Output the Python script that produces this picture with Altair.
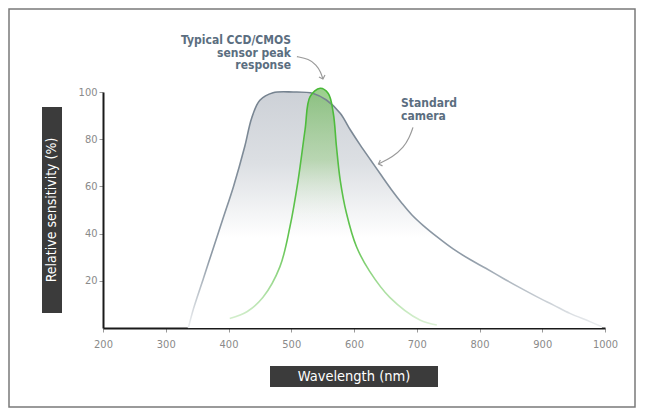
import altair as alt
import pandas as pd

# Standard camera spectral response (wavelength nm, relative sensitivity %)
camera_nm = [336, 344, 360, 376, 392, 408, 426, 437, 450, 471, 503, 535, 556, 578, 594, 610, 627, 644, 660, 676, 692, 710, 732, 758, 785, 810, 838, 865, 891, 918, 944, 976, 995]
camera_val = [0, 8, 21, 34, 47, 60, 77, 89, 96.5, 99.7, 100, 99.4, 96.6, 91, 84, 77.5, 71, 64.5, 58.5, 53, 48, 43.5, 38.7, 33.5, 29, 25.3, 21, 17, 13.3, 9.7, 6.2, 2.7, 0.5]

# Typical CCD/CMOS sensor peak response
sensor_nm = [402, 430, 455, 482, 498, 511, 522, 530, 546, 559, 567, 572, 578, 588, 604, 625, 657, 705, 732]
sensor_val = [4, 7, 13, 26, 43, 62.7, 84, 98, 101.6, 99.4, 91, 77, 62.7, 48.6, 34.4, 24, 13, 3.4, 1.3]

x_ticks = [200, 300, 400, 500, 600, 700, 800, 900, 1000]
y_ticks = [20, 40, 60, 80, 100]

# annotation arrows (data coordinates)
arrow1_nm = [509, 528, 540, 547, 550.5]
arrow1_val = [115, 114, 111.5, 108.5, 105.5]
arrow2_nm = [694, 688, 679, 662, 639]
arrow2_val = [85, 80.5, 76.5, 72.5, 69.5]

camera = pd.DataFrame({"nm": camera_nm, "val": camera_val})
sensor = pd.DataFrame({"nm": sensor_nm, "val": sensor_val})
a1 = pd.DataFrame({"nm": arrow1_nm, "val": arrow1_val, "o": range(len(arrow1_nm))})
a2 = pd.DataFrame({"nm": arrow2_nm, "val": arrow2_val, "o": range(len(arrow2_nm))})

FONT = "Liberation Sans Narrow, DejaVu Sans Condensed, sans-serif"
INTERP = "catmull-rom"

xs = alt.Scale(domain=[200, 1000], nice=False)
ys = alt.Scale(domain=[0, 100], nice=False)

X = alt.X("nm:Q", scale=xs,
          axis=alt.Axis(values=x_ticks, format="d", title=None, grid=False, domainColor="#1a1a1a",
                        domainWidth=2, tickColor="#999999", tickSize=4, labelColor="#8a8a8a",
                        labelFontSize=11, labelFont=FONT, labelPadding=6, labelFlush=False))
Y = alt.Y("val:Q", scale=ys,
          axis=alt.Axis(values=y_ticks, title=None, grid=False, domainColor="#1a1a1a",
                        domainWidth=2, tickColor="#999999", tickSize=4, labelColor="#8a8a8a",
                        labelFontSize=11, labelFont=FONT, labelPadding=2))

gray_fill = alt.Gradient(gradient="linear", x1=0, x2=0, y1=0, y2=1,
                         stops=[alt.GradientStop(offset=0, color="#cdd1d7"),
                                alt.GradientStop(offset=0.3, color="#dcdfe3"),
                                alt.GradientStop(offset=0.62, color="#ffffff")])
gray_line = alt.Gradient(gradient="linear", x1=0, x2=0, y1=0, y2=1,
                         stops=[alt.GradientStop(offset=0, color="#75828f"),
                                alt.GradientStop(offset=0.7, color="#8e9aa6"),
                                alt.GradientStop(offset=1, color="#eef0f2")])
green_fill = alt.Gradient(gradient="linear", x1=0, x2=0, y1=0, y2=1,
                          stops=[alt.GradientStop(offset=0, color="rgba(110,185,90,0.7)"),
                                 alt.GradientStop(offset=0.3, color="rgba(150,205,130,0.5)"),
                                 alt.GradientStop(offset=0.6, color="rgba(255,255,255,0)")])
green_line = alt.Gradient(gradient="linear", x1=0, x2=0, y1=0, y2=1,
                          stops=[alt.GradientStop(offset=0, color="#48b936"),
                                 alt.GradientStop(offset=0.65, color="#62c451"),
                                 alt.GradientStop(offset=1, color="#dcf1d6")])

cam_area = alt.Chart(camera).mark_area(interpolate=INTERP, fill=gray_fill).encode(x=X, y=Y)
cam_line = alt.Chart(camera).mark_line(interpolate=INTERP, stroke=gray_line, strokeWidth=1.6).encode(x="nm:Q", y="val:Q")
sen_area = alt.Chart(sensor).mark_area(interpolate=INTERP, fill=green_fill).encode(x="nm:Q", y="val:Q")
sen_line = alt.Chart(sensor).mark_line(interpolate=INTERP, stroke=green_line, strokeWidth=1.6).encode(x="nm:Q", y="val:Q")

arrow_col = "#9a9a9a"
arr1 = alt.Chart(a1).mark_line(interpolate="basis", color=arrow_col, strokeWidth=1.2).encode(x="nm:Q", y="val:Q", order="o:Q")
arr2 = alt.Chart(a2).mark_line(interpolate="basis", color=arrow_col, strokeWidth=1.2).encode(x="nm:Q", y="val:Q", order="o:Q")
chev = "M -1 -1 L 0 0 L -1 1"
head1 = alt.Chart(a1.tail(1)).mark_point(shape=chev, filled=False, color=arrow_col, strokeWidth=1.2,
                                        size=40, angle=72, opacity=1).encode(x="nm:Q", y="val:Q")
head2 = alt.Chart(a2.tail(1)).mark_point(shape=chev, filled=False, color=arrow_col, strokeWidth=1.2,
                                        size=40, angle=160, opacity=1).encode(x="nm:Q", y="val:Q")

one = alt.Data(values=[{}])
txt_col = "#5b6e80"
label1 = alt.Chart(one).mark_text(text=["Typical CCD/CMOS", "sensor peak", "response"], align="right",
                                  baseline="top", font=FONT, fontWeight="bold", fontSize=12,
                                  lineHeight=12.5, color=txt_col).encode(x=alt.value(188), y=alt.value(-57))
label2 = alt.Chart(one).mark_text(text=["Standard", "camera"], align="left", baseline="top", font=FONT,
                                  fontWeight="bold", fontSize=12, lineHeight=12.5,
                                  color=txt_col).encode(x=alt.value(298), y=alt.value(6))

box_col = "#3b3b3b"
ybox = alt.Chart(one).mark_rect(color=box_col).encode(x=alt.value(-61), x2=alt.value(-41), y=alt.value(15), y2=alt.value(221))
ytitle = alt.Chart(one).mark_text(text="Relative sensitivity (%)", angle=270, color="white", font=FONT,
                                  fontSize=14, align="center", baseline="middle").encode(x=alt.value(-51), y=alt.value(118))
xbox = alt.Chart(one).mark_rect(color=box_col).encode(x=alt.value(167), x2=alt.value(335), y=alt.value(274), y2=alt.value(295))
xtitle = alt.Chart(one).mark_text(text="Wavelength (nm)", color="white", font=FONT, fontSize=14.5,
                                  align="center", baseline="middle").encode(x=alt.value(251), y=alt.value(284.5))
frame = alt.Chart(one).mark_rect(fill=None, stroke="#7a7a7a", strokeWidth=1.5).encode(
    x=alt.value(-94), x2=alt.value(532), y=alt.value(-83), y2=alt.value(315))

chart = alt.layer(
    frame, cam_area, sen_area, cam_line, sen_line, arr1, arr2, head1, head2,
    label1, label2, ybox, ytitle, xbox, xtitle
).properties(
    width=502, height=236,
    autosize=alt.AutoSizeParams(type="none"),
    padding={"left": 95, "top": 84, "right": 32, "bottom": 80},
    background="white",
).configure_view(stroke=None)

chart.save("out.html", embed_options={"renderer": "svg", "actions": False})
